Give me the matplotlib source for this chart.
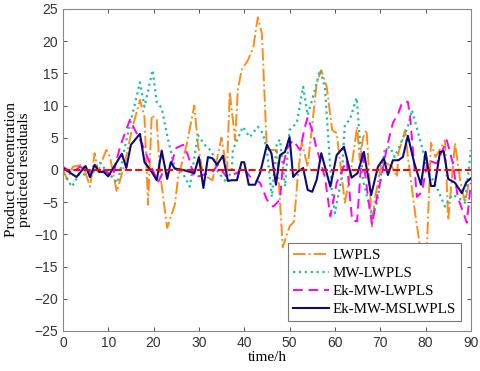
import matplotlib
matplotlib.use("Agg")
import matplotlib.pyplot as plt

# LWPLS
t_lw = [0, 1, 2.2, 4.4, 6, 7, 7.8, 8.5, 9.6, 10.4, 11.9, 13.7, 15.2, 17, 18, 18.8, 19.6, 20.7, 21.4, 23,
        24.7, 25.4, 27.3, 29, 29.8, 30.9, 33, 35, 36.2, 36.8, 38, 38.6, 39.4, 40.8, 42, 43, 43.9, 45, 47.2,
        48.5, 50, 51, 51.8, 52.7, 54, 56, 57, 58.2, 59.4, 60.4, 62.2, 63.8, 64.9, 65.5, 66.2, 67, 68.2, 68.8,
        70.4, 72.6, 73.7, 74, 75.5, 76.1, 77.7, 78.8, 80.3, 81.2, 82.2, 84.3, 85, 86.5, 87.6, 88.7, 89.8]
y_lw = [0, -1.5, 0.5, 0.8, -2.6, 2.6, -0.3, 1.2, 3.1, 2, -3.4, 1.1, 6.2, 10.9, 8.2, -5.4, 8.5, 7.8, -0.3, -9,
        -5.4, -1.3, 3.9, 10, 3.9, -0.7, -1.6, 5, -0.3, 12.1, 4.6, 12.4, 15.5, 17, 19, 23.7, 21.2, 3.1, 3.1,
        -12, -8.8, -8, -1.1, 4.3, 0.5, 13.5, 15.5, 12.9, 6.2, 5.7, -5.1, 1.1, 6.7, 1.5, 5, 6.2, -8.8, -4.6,
        1.5, 0.5, -1.1, 2.6, 6.2, 2, -6.7, -12, -12, 4.2, 2, 4.6, -7.8, 4.2, -1.5, -5.1, -1.1]

# MW-LWPLS
t_mw = [0, 2, 3.7, 6, 8.2, 10, 12.1, 14, 15.2, 17, 18, 19.8, 20.7, 21.8, 23.1, 24.7, 26.3, 28, 29.8, 31.3,
        32.9, 34.2, 36.2, 37.3, 37.5, 39.7, 41.2, 43, 44.1, 45, 46.1, 47.2, 47.9, 49, 50, 51.6, 53, 54, 55.6,
        56.7, 57.8, 59.3, 60, 61.5, 62.2, 63.3, 64.8, 66.2, 68.2, 69.3, 71, 72.1, 73.2, 76.1, 77, 79.2, 80.5,
        82.7, 84.3, 85.8, 87.1, 88.7, 90]
y_mw = [-0.5, -2.6, -0.5, -1, 1.1, -0.5, -2, 4.6, 8.2, 13.6, 9.8, 15.5, 10.5, 9.6, 5, 0.3, -0.3, -2.6, 5.4, 3.9,
        2.8, -0.3, -2, 0.3, 3.1, 6.7, 5.1, 6.7, 5.7, 3.1, -4.2, 4.2, 4.7, -2.6, 6.2, 7.3, 12.9, 8.5, 12.4,
        15.5, 12.9, -3.1, -6.7, -1.1, 7, 7.8, 11.2, -1.6, -7.2, -5.1, 3.1, 3.6, 2, 6.7, 9.3, 3.6, 0,
        -3.1, -5.7, -3.9, -4.2, -5.1, 3.1]

# Ek-MW-LWPLS
t_ek = [0, 2.2, 3.7, 6, 8.2, 10, 11, 12.6, 14.8, 15.9, 17.5, 19.5, 21, 22, 23, 25, 26.5, 27.6, 29, 33,
        34.2, 36, 38.4, 39.7, 41.2, 43.5, 45, 46.4, 47.9, 48.5, 49.6, 50.8, 52.3, 53.4, 54, 55.2, 56, 56.3,
        57.8, 59, 60.4, 62.6, 63.8, 64.9, 66, 67.3, 68.2, 69.3, 70.4, 71.5, 72.8, 74, 74.8, 76.1, 76.6, 78.1,
        79.2, 80.5, 82.5, 84.7, 86, 87.1, 89.1, 90]
y_ek = [0.5, -0.5, 0.5, -0.3, 0.3, -0.5, -1, 3.6, 7.8, 6.2, 4, 0.5, -1.9, -0.5, -1.2, 3.4, 3.9, 2.3, -1.2, -0.3,
        0.8, -1, -0.5, 0.5, -1, -2, -4.6, -5.7, -4.6, 0.5, 3.6, 4.6, 3.1, 6.7, 8.2, 5.7, 3.1, 2.6,
        -1.1, -7.2, -2, 1.5, -7.8, -8, 3.1, -4.2, -8.5, -4.2, -0.5, 3.6, 7.3, 8.8, 10.4, 10.6, 8.2, -4.2,
        -3.4, 1.5, 1.0, 4.6, 1.1, -4.2, -8.2, -2]

# Ek-MW-MSLWPLS
t_ms = [0, 3, 5, 6, 7, 8, 9, 10, 13, 14, 15, 17, 18, 19.6, 20.7, 21.8, 23, 23.8, 24.7, 26.5, 29, 30, 31, 32,
        33, 34, 35.3, 36.4, 37.3, 38.4, 39.4, 40, 41, 42.4, 43.5, 45, 46, 47, 47.9, 49, 50, 50.8, 51.8, 53,
        54, 55, 56, 57, 59, 60.4, 62, 63.7, 65, 66.4, 68, 69.5, 70.8, 71.7, 72.8, 74, 75, 76.1, 77.5, 79,
        80, 81.2, 82, 83.2, 84, 85, 86.5, 88, 89, 90]
y_ms = [0.3, -1.1, 0.6, -1.1, 0.8, -0.3, -0.3, -1, 2.5, 0.3, 3.9, 5.6, 1.2, -0.3, -1.6, 3, -1.4, 1.2, 0.2, 0, -0.5,
        2, -2.8, 2, 1.8, 0.8, 2.2, -1.7, -1.6, -1.6, 1.2, 1.2, -2.3, -2.3, -0.5, 3.9, 2.6, -2.3, 2.3, 2.8, 5.1,
        -1.1, -0.3, 0.3, -3.1, -3.4, -1.5, 2.6, -2.6, 2.3, 3.6, -1.2, -0.5, 2.8, -3.9, 0.5, 1.8, -0.8, 1.5, 1.5,
        2, 5.3, 1.1, -2.3, 2.8, -2.5, -2.5, 2.8, 2.9, -1.4, -2, -3.6, -1.9, -1.3]

labels = ["LWPLS", "MW-LWPLS", "Ek-MW-LWPLS", "Ek-MW-MSLWPLS"]
xticks = list(range(0, 91, 10))
yticks = list(range(-25, 26, 5))

serif = ["Liberation Serif", "DejaVu Serif"]
sans = ["Liberation Sans", "DejaVu Sans"]

fig = plt.figure(figsize=(4.8, 3.71), dpi=100)
ax = fig.add_axes([0.131, 0.108, 0.85, 0.868])

ax.plot(t_lw, y_lw, color="#FF8C1A", ls="-.", lw=1.4, label=labels[0])
ax.plot(t_mw, y_mw, color="#1FBFA0", ls=":", lw=1.6, label=labels[1])
ax.plot(t_ek, y_ek, color="#FF00FF", ls=(0, (5, 3)), lw=1.4, label=labels[2])
ax.plot(t_ms, y_ms, color="#0A0A78", ls="-", lw=1.5, label=labels[3])
ax.plot([0, 90], [0, 0], color="#FF0000", ls="--", lw=1.4)

ax.set_xlim(0, 90)
ax.set_ylim(-25, 25)
ax.set_xticks(xticks)
ax.set_yticks(yticks)
ax.tick_params(direction="in", top=True, right=True, length=3, width=0.6, colors="#333333", labelsize=10)
for lab in ax.get_xticklabels() + ax.get_yticklabels():
    lab.set_family(sans)
for s in ax.spines.values():
    s.set_color("#888888")
    s.set_linewidth(0.8)

ax.set_xlabel("time/h", family=serif, fontsize=11, labelpad=1)
ax.set_ylabel("Product concentration\npredicted residuals", family=serif, fontsize=11, labelpad=2, linespacing=1.0)

leg = ax.legend(loc="lower right", prop={"family": serif, "size": 10.8}, fancybox=False,
                edgecolor="#777777", framealpha=1, handlelength=2.4, borderpad=0.35, labelspacing=0.3,
                handletextpad=0.25, borderaxespad=0.65)
leg.get_frame().set_linewidth(0.8)

fig.savefig("out.png", dpi=100)
